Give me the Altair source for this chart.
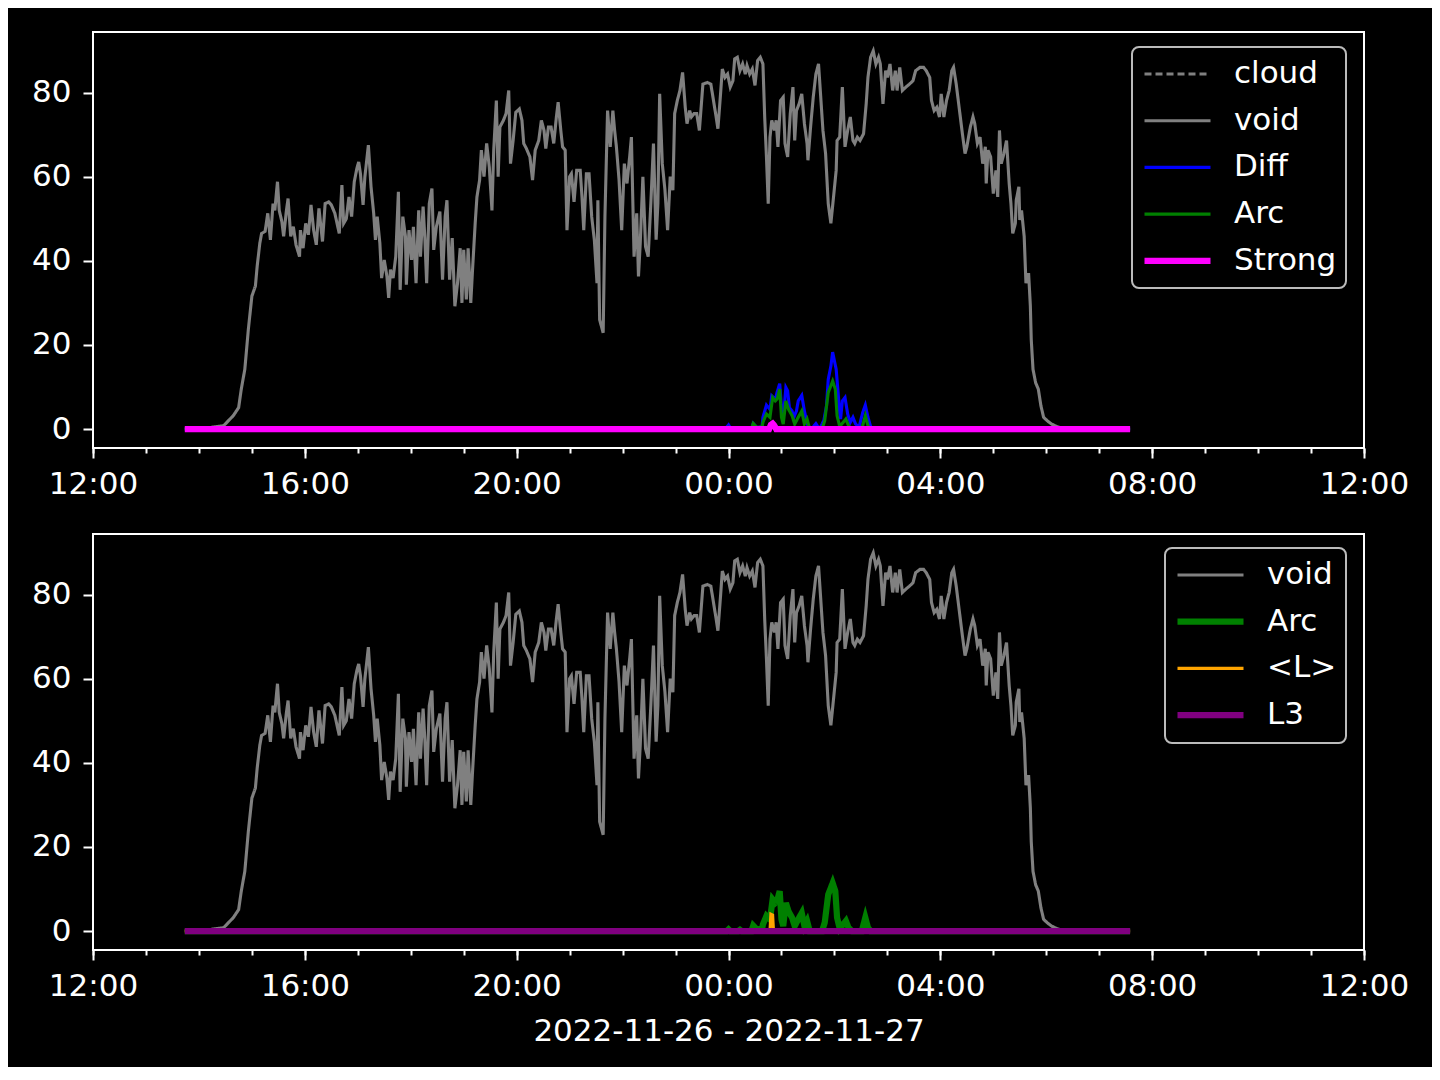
import altair as alt
import pandas as pd

BASE = pd.Timestamp("2022-11-26 12:00")

# minutes after 2022-11-26 12:00 and values
void_min = [104, 130, 148, 159, 165, 168, 172, 176, 180, 184, 186, 189, 191, 195, 198, 201, 204, 206, 209, 211,
            214, 216, 219, 221, 224, 227, 230, 234, 235, 238, 241, 244, 247, 250, 253, 256, 260, 263, 267, 270,
            274, 279, 282, 284, 287, 290, 293, 296, 299, 301, 303, 306, 308, 312, 315, 318, 320, 322, 325, 327,
            330, 333, 335, 337, 340, 343, 346, 348, 351, 354, 355, 358, 361, 363, 366, 369, 371, 374, 376, 378,
            381, 384, 386, 389,
            393, 396, 399, 401, 404, 407, 410, 413, 416, 418, 420, 423, 425, 428, 430, 433, 435, 438, 440, 443,
            446, 449, 452, 454, 457, 459, 461, 465, 468, 471, 473, 476, 479, 483, 486, 488, 491, 495, 498, 501,
            505, 508, 511, 513, 516, 519, 522, 525, 527, 530, 532, 535, 537, 540, 542, 545, 548, 552, 554, 556,
            559, 562, 565, 568, 571, 572, 574, 578, 580, 583, 586, 589, 591, 593, 596, 599, 602, 605, 608, 610,
            613, 616, 618, 620, 623, 626, 629, 632, 635, 638, 640, 642, 645, 648, 651, 654, 657, 659, 662, 665,
            668, 671, 673, 676, 678, 681, 684, 687,
            691, 696, 700, 703, 706, 708, 711, 713, 716, 719, 722, 725, 727, 730, 733, 736, 739, 741, 744, 747,
            750, 753, 756, 759, 761, 763, 765, 767, 769, 772, 774, 776, 779, 782, 784, 787, 790, 793, 795, 797,
            800, 803, 806, 809, 810, 813, 816, 819, 822, 824, 827, 830, 833, 836, 839, 842, 843, 846, 849, 852,
            855, 858, 861, 863, 866, 869, 873, 876, 878, 881, 884, 887, 890, 892, 895, 898, 900, 903, 906, 909,
            911, 914, 917, 921, 925, 929, 932, 937, 941, 944, 948, 950, 953, 956, 959, 961, 964, 967, 970, 973,
            975, 978,
            985, 988, 990, 994, 997, 999, 1002, 1005, 1008, 1011, 1012, 1014, 1017, 1020, 1023, 1025, 1027, 1029,
            1032, 1035, 1038, 1040, 1042, 1045, 1046, 1049, 1050, 1052, 1055, 1057, 1060, 1062, 1063, 1065, 1068,
            1071, 1074, 1077, 1081, 1086, 1092, 1100, 1175]
void_val = [0, 0.3, 0.8, 3.2, 5.1, 9.5, 14.2, 23.7, 31.6, 34, 38.7, 44.2, 46.5, 47, 51.3, 45, 53.6, 52, 58.8, 52,
            49.3, 45.8, 51.7, 54.8, 45.8, 48.1, 43.8, 41, 47.3, 43, 48.9, 46.2, 53.3, 47.3, 43.8, 52.5, 44.6, 53.6, 54, 53.3,
            51.3, 46.5, 58, 48.9, 50, 55.2, 50.5, 58.8, 62, 63.5, 60.7, 53.3, 59.9, 67.5, 57.6, 51.3, 45, 50.5, 44.2, 35.9,
            40.2, 36.3, 31.2, 37.9, 35.9, 41, 56.4, 33.1, 50.5, 45.8, 34.3, 47.3, 40.2, 48.1, 34.7, 52, 41, 52.9, 45.4, 34.7,
            53.6, 57.2, 42.6, 48.1,
            51.7, 35.5, 50.5, 54.4, 35.5, 45.4, 29.2, 34.7, 43, 30, 42.6, 30.8, 43, 30, 37.9, 48.9, 55.2, 59.2, 66.3, 60,
            67.9, 62.3, 52, 66.3, 78.1, 60, 71.8, 73.4, 75, 80.5, 63.1, 68.6, 75.3, 76.1, 73.4, 67.9, 66.7, 64.7, 59.2, 66.3,
            68.6, 73.4, 71, 66.7, 71.8, 71.8, 67.9, 74.2, 77.7, 71, 67.1, 66.3, 47.3, 60, 60.7, 54, 61.5, 61.5, 55.2, 47.3,
            60.7, 60.7, 50.5, 45, 34.7, 54.4, 26, 22.9, 50.5, 75.7, 67.1, 75.7, 71, 67.1, 59.2, 47.3, 63.1, 58.4, 64.7, 69.4,
            41, 51.3, 36.3, 44.2, 60, 43.4, 41, 53.6, 67.9, 45, 53.6, 79.7, 63.1, 56.8, 47.3, 60, 56.8, 75, 78.1, 80.5,
            84.8, 76.5, 72.6, 75.7, 74.2, 75, 75, 71,
            82, 82.4, 82, 78.1, 74.2, 71.4, 79.7, 85.6, 83.6, 84.4, 81.3, 82.8, 88, 88.4, 85.2, 86.8, 84.4, 86.4, 84.4, 85.6,
            81.7, 87.6, 88.4, 86.8, 74.2, 64.7, 53.6, 69.4, 73.4, 71, 73.4, 67.1, 78.1, 78.9, 67.9, 64.7, 75, 81.3, 68.6, 75.7,
            77.3, 79.7, 72.6, 67.9, 63.9, 71.8, 78.9, 84.4, 86.8, 80.5, 71, 65.5, 53.6, 48.9, 55.2, 61.5, 68.6, 69.4, 81.3, 67.1,
            71, 74.2, 68.6, 67.9, 69.4, 68.6, 70.2, 77.3, 83.6, 88.4, 89.9, 86.8, 88.4, 86.8, 77.3, 85.2, 83.6, 86.8, 80.5, 85.2,
            80.5, 86, 80.5, 81.3, 82, 82.8, 85.2, 86, 86, 85.2, 83.6, 78.1, 75.7, 76.5, 74.2, 79.7, 74.2, 78.1, 80.5, 85.2,
            86, 82,
            70.2, 65.5, 67.1, 71.8, 74.2, 72.6, 67.9, 69.4, 63.1, 67.1, 58.4, 66.3, 64.7, 56, 61.5, 55.2, 71, 63.1,
            65.5, 68.6, 58.4, 53.6, 46.5, 48.9, 54.4, 57.6, 49.7, 52, 45.8, 34.7, 37.1, 29.2, 21.3, 14.2, 11,
            9.5, 5.5, 2.8, 2, 1.2, 0.6, 0, 0]

diff_min = [104, 716, 720, 723, 746, 748, 752, 758, 759, 763, 767, 769, 773, 775, 778, 780, 782, 785, 787, 789,
            792, 794, 797, 799, 803, 806, 808, 810, 814, 819, 823, 828, 831, 833, 836, 838, 840, 842, 844, 846,
            847, 849, 852, 855, 858, 861, 864, 868, 872, 875, 878, 881, 884, 1175]
diff_val = [0, 0, 1.0, 0, 0, 1.3, 0.4, 0.5, 2.8, 5.7, 4.7, 7.9, 7.1, 8.7, 10.8, 5.5, 2.4, 9.9, 9.1, 5.1,
            4.3, 2.8, 4.3, 6.7, 8.0, 4.3, 2.4, 0.8, 0, 1.3, 0, 2.0, 5.5, 11.8, 15, 18.3, 16.2, 14.2, 9.1, 3.9,
            2.4, 6.7, 7.5, 3.6, 1.6, 2.8, 1.2, 0.5, 3.9, 5.7, 2.8, 0.6, 0, 0]

arc_min = [104, 718, 720, 722, 731, 733, 735, 746, 748, 752, 758, 759, 763, 767, 770, 773, 775, 778, 780, 782,
           785, 788, 792, 795, 799, 803, 806, 809, 812, 826, 829, 833, 836, 838, 841, 843, 846, 850, 853, 856,
           860, 871, 875, 878, 881, 1175]
arc_val = [0, 0, 0.4, 0, 0, 0.3, 0, 0, 1.3, 0.4, 0.5, 1.6, 3.6, 2.8, 7.5, 6.7, 7.1, 9.5, 2.8, 1.2,
           6.7, 4.7, 3.2, 1.2, 2.8, 4.3, 1.2, 2.4, 0, 0, 2.0, 8.7, 10.3, 11.4, 9.5, 3.2, 0.6, 1.6, 2.4, 0.8,
           0, 0, 3.2, 0.8, 0, 0]

strong_min = [104, 766, 768, 770, 772, 774, 1175]
strong_val = [0, 0, 1.0, 1.3, 0.8, 0, 0]

lavg_min = [104, 767, 768, 770, 771, 1175]
lavg_val = [0, 0, 4.0, 3.8, 0, 0]

l3_min = [104, 1175]
l3_val = [0, 0]

cloud_min = []
cloud_val = []

TOP_SERIES = ["cloud", "void", "Diff", "Arc", "Strong"]
TOP_COLORS = ["#808080", "#808080", "#0000ff", "#008000", "#ff00ff"]
TOP_DASH = [[7, 4], [1, 0], [1, 0], [1, 0], [1, 0]]
TOP_WIDTH = [3.1, 3.1, 3.1, 3.1, 6.2]

BOT_SERIES = ["void", "Arc", "<L>", "L3"]
BOT_COLORS = ["#808080", "#008000", "#ffa500", "#800080"]
BOT_DASH = [[1, 0], [1, 0], [1, 0], [1, 0]]
BOT_WIDTH = [3.1, 6.2, 3.1, 6.2]

XLABEL = "2022-11-26 - 2022-11-27"
FONT = "DejaVu Sans"
FS = 31


def frame(name, mins, vals):
    return pd.DataFrame({
        "time": [(BASE + pd.Timedelta(minutes=m)).strftime("%Y-%m-%dT%H:%M:%S") for m in mins],
        "value": vals,
        "series": name,
    })


def dt(day, hour):
    return alt.DateTime(year=2022, month=11, date=day, hours=hour)


X_DOMAIN = [dt(26, 12), dt(27, 12)]
MAJOR = [dt(26, 12), dt(26, 16), dt(26, 20), dt(27, 0), dt(27, 4), dt(27, 8), dt(27, 12)]
MINOR = [dt(26, h) for h in range(12, 24)] + [dt(27, h) for h in range(0, 13)]


def panel(frames, domain, colors, dashes, widths, xtitle, lx, ly):
    df = pd.concat(frames, ignore_index=True)
    legend = alt.Legend(
        orient="none", legendX=lx, legendY=ly, title=None,
        symbolType="stroke", symbolSize=4356, clipHeight=36, rowPadding=10.7,
        labelFont=FONT, labelFontSize=FS, labelColor="white", labelOffset=20, labelLimit=400,
        fillColor="black", strokeColor="#bbbbbb", cornerRadius=7, padding=9,
    )
    color = alt.Color("series:N", scale=alt.Scale(type="ordinal", domain=domain, range=colors), legend=legend)
    dash = alt.StrokeDash("series:N", scale=alt.Scale(type="ordinal", domain=domain, range=dashes), legend=legend)
    width = alt.StrokeWidth("series:N", scale=alt.Scale(type="ordinal", domain=domain, range=widths), legend=legend)
    y = alt.Y("value:Q", scale=alt.Scale(domain=[-4.5, 94.4], nice=False, zero=False),
              axis=alt.Axis(values=[0, 20, 40, 60, 80], tickSize=10, labelPadding=12), title=None)
    major_axis = alt.Axis(values=MAJOR, format="%H:%M", orient="bottom", tickSize=10,
                          labelPadding=11, labelFlush=False, labelOverlap=False,
                          title=xtitle if xtitle else None,
                          titleFont=FONT, titleFontSize=FS, titleFontWeight="normal",
                          titleColor="white", titlePadding=15)
    minor_axis = alt.Axis(values=MINOR, orient="bottom", tickSize=5, labels=False, title=None,
                          domain=False, grid=False)
    layers = []
    k = 0
    for s in domain:
        if not (df.series == s).any():
            continue
        if k == 0:
            ax = major_axis
        elif k == 1:
            ax = minor_axis
        else:
            ax = None
        xenc = alt.X("time:T", scale=alt.Scale(domain=X_DOMAIN), axis=ax,
                     title=(xtitle if (xtitle and k == 0) else None))
        layers.append(
            alt.Chart(df).transform_filter(alt.datum.series == s).mark_line(interpolate="linear").encode(
                x=xenc, y=y, color=color, strokeDash=dash, strokeWidth=width
            )
        )
        k += 1
    return alt.layer(*layers).resolve_axis(x="independent").properties(width=1271, height=416)


top = panel([frame("cloud", cloud_min, cloud_val), frame("void", void_min, void_val),
             frame("Diff", diff_min, diff_val), frame("Arc", arc_min, arc_val),
             frame("Strong", strong_min, strong_val)],
            TOP_SERIES, TOP_COLORS, TOP_DASH, TOP_WIDTH, None, 1039, 15)
bottom = panel([frame("void", void_min, void_val), frame("Arc", arc_min, arc_val),
                frame("<L>", lavg_min, lavg_val), frame("L3", l3_min, l3_val)],
               BOT_SERIES, BOT_COLORS, BOT_DASH, BOT_WIDTH, XLABEL, 1072, 14)

chart = alt.vconcat(top, bottom, spacing=33).resolve_scale(
    color="independent", strokeDash="independent", strokeWidth="independent"
).properties(
    background="black",
    padding={"left": 22, "top": 23, "right": 22, "bottom": 20},
).configure_view(
    stroke="white", strokeWidth=2
).configure_axis(
    labelFont=FONT, labelFontSize=FS, labelColor="white", tickColor="white", tickWidth=2,
    domain=False, grid=False, titleColor="white"
).configure_legend(
    strokeWidth=2
)

chart.save("out.html", embed_options={"renderer": "svg", "actions": False})
